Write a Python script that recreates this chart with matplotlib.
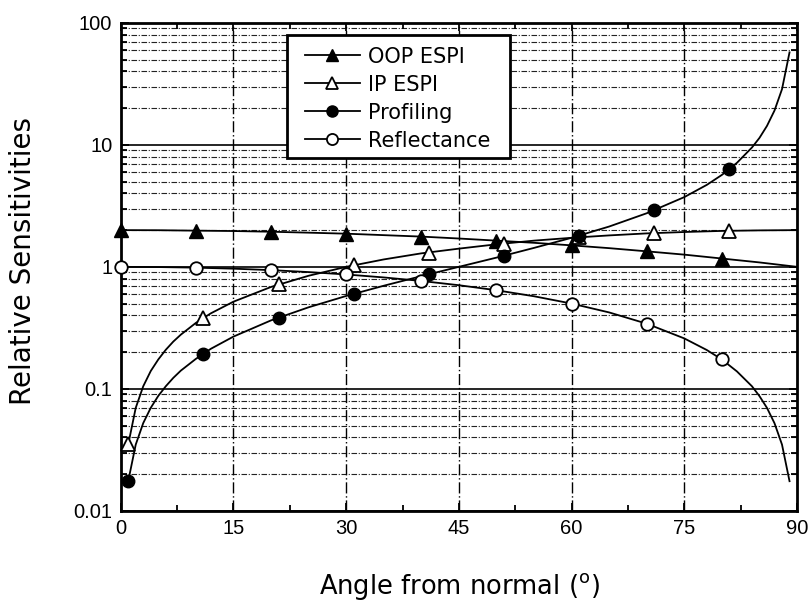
import matplotlib
matplotlib.use('Agg')
import matplotlib.pyplot as plt
from matplotlib.patches import Rectangle
from matplotlib.ticker import FixedLocator, FuncFormatter, LogLocator, NullFormatter

# marker readings
ang_a = [0, 10, 20, 30, 40, 50, 60, 70, 80]
ang_b = [1, 11, 21, 31, 41, 51, 61, 71, 81]
oop_pts = [2.0, 1.97, 1.94, 1.87, 1.77, 1.64, 1.50, 1.34, 1.17]
ip_pts = [0.035, 0.38, 0.72, 1.03, 1.31, 1.55, 1.75, 1.89, 1.98]
prof_pts = [0.0175, 0.194, 0.384, 0.60, 0.87, 1.23, 1.80, 2.90, 6.3]
refl_pts = [1.0, 0.985, 0.94, 0.866, 0.766, 0.643, 0.50, 0.342, 0.174]

# curve readings
oop_x = [0, 5, 10, 15, 20, 25, 30, 35, 40, 45, 50, 55, 60, 65, 70, 75, 80, 85, 90]
oop_y = [2.0, 1.996, 1.98, 1.966, 1.94, 1.906, 1.87, 1.819, 1.77, 1.707, 1.64,
         1.574, 1.5, 1.423, 1.34, 1.259, 1.17, 1.087, 1.0]
ip_x = [1, 2, 3, 4, 5, 6, 7, 8, 10, 12, 15, 20, 25, 30, 35, 40, 45, 50, 55, 60,
        65, 70, 75, 80, 85, 90]
ip_y = [0.0349, 0.0698, 0.105, 0.140, 0.174, 0.209, 0.244, 0.278, 0.347, 0.416,
        0.518, 0.684, 0.845, 1.0, 1.15, 1.29, 1.41, 1.53, 1.64, 1.73, 1.81,
        1.88, 1.93, 1.97, 1.99, 2.0]
prof_x = [1, 2, 3, 4, 5, 6, 7, 8, 10, 12, 15, 20, 25, 30, 35, 40, 45, 50, 55,
          60, 65, 70, 75, 78, 80, 82, 84, 85, 86, 87, 88, 89]
prof_y = [0.0175, 0.0349, 0.0524, 0.0699, 0.0875, 0.105, 0.123, 0.141, 0.176,
          0.213, 0.268, 0.364, 0.466, 0.577, 0.700, 0.839, 1.0, 1.19, 1.43,
          1.73, 2.14, 2.75, 3.73, 4.70, 5.67, 7.12, 9.51, 11.4, 14.3, 19.1,
          28.6, 57.3]
refl_x = [0, 5, 10, 15, 20, 25, 30, 35, 40, 45, 50, 55, 60, 65, 70, 75, 78, 80,
          82, 84, 85, 86, 87, 88, 89]
refl_y = [1.0, 0.996, 0.985, 0.966, 0.94, 0.906, 0.866, 0.819, 0.766, 0.707,
          0.643, 0.574, 0.5, 0.423, 0.342, 0.259, 0.208, 0.174, 0.139, 0.105,
          0.0872, 0.0698, 0.0523, 0.0349, 0.0175]

fig = plt.figure(figsize=(8.1, 6.01), dpi=100)
ax = fig.add_axes([0.149, 0.150, 0.835, 0.812])
ax.set_yscale('log')
ax.set_xlim(0, 90)
ax.set_ylim(0.01, 100)

# grid
for dec in [0.01, 0.1, 1, 10]:
    ax.axhline(dec, color='black', lw=1.2, zorder=1)
    for m in range(2, 10):
        ax.axhline(dec * m, color='#222222', lw=0.8, ls=(0, (5, 1.5, 1, 1.5)), zorder=1)
for xv in [15, 30, 45, 60, 75]:
    ax.axvline(xv, color='black', lw=1.0, ls=(0, (8, 2, 1, 2)), zorder=1)

ax.plot(oop_x, oop_y, color='black', lw=1.3, zorder=2)
ax.plot(ip_x, ip_y, color='black', lw=1.3, zorder=2)
ax.plot(prof_x, prof_y, color='black', lw=1.3, zorder=2)
ax.plot(refl_x, refl_y, color='black', lw=1.3, zorder=2)

ax.plot(ang_a, oop_pts, '^', ms=10, color='black', mec='black', clip_on=False, zorder=3)
ax.plot(ang_b, ip_pts, '^', ms=10, mfc='white', mec='black', mew=1.3, clip_on=False, zorder=3)
ax.plot(ang_b, prof_pts, 'o', ms=9, color='black', mec='black', clip_on=False, zorder=3)
ax.plot(ang_a, refl_pts, 'o', ms=9, mfc='white', mec='black', mew=1.3, clip_on=False, zorder=3)

# legend box drawn separately so the padding can match
ax.add_patch(Rectangle((0.2456, 0.7234), 0.3299, 0.252, transform=ax.transAxes,
                       facecolor='white', edgecolor='black', lw=2, zorder=4))
h1, = ax.plot([], [], '-^', color='black', ms=9, lw=1.3)
h2, = ax.plot([], [], '-^', color='black', mfc='white', ms=9, mew=1.3, lw=1.3)
h3, = ax.plot([], [], '-o', color='black', ms=8, lw=1.3)
h4, = ax.plot([], [], '-o', color='black', mfc='white', ms=8, mew=1.3, lw=1.3)
leg = ax.legend([h1, h2, h3, h4], ['OOP ESPI', 'IP ESPI', 'Profiling', 'Reflectance'],
                loc='upper left', bbox_to_anchor=(0.272, 0.951), frameon=False,
                handlelength=2.65, handletextpad=0.4, labelspacing=0.38,
                borderpad=0, borderaxespad=0,
                prop={'family': 'DejaVu Sans', 'size': 15})
leg.set_zorder(5)

ax.xaxis.set_major_locator(FixedLocator([0, 15, 30, 45, 60, 75, 90]))
ax.xaxis.set_minor_locator(FixedLocator([7.5, 22.5, 37.5, 52.5, 67.5, 82.5]))
ax.yaxis.set_major_locator(FixedLocator([0.01, 0.1, 1, 10, 100]))
ax.yaxis.set_minor_locator(LogLocator(base=10, subs=range(2, 10)))
ax.yaxis.set_minor_formatter(NullFormatter())
ax.yaxis.set_major_formatter(FuncFormatter(lambda v, p: f'{v:g}'))
ax.tick_params(which='both', direction='in', top=True, right=True, width=1.3)
ax.tick_params(which='major', length=6, labelsize=14.5, pad=6)
ax.tick_params(which='minor', length=4)
for lab in ax.get_xticklabels() + ax.get_yticklabels():
    lab.set_family('Liberation Sans')
for s in ax.spines.values():
    s.set_linewidth(2)

fig.text(0.567, 0.0116, 'Angle from normal ($^{\\mathregular{o}}$)', fontsize=18.5,
         family='DejaVu Sans', ha='center', va='baseline')
fig.text(0.028, 0.566, 'Relative Sensitivities', fontsize=20, family='DejaVu Sans',
         rotation=90, ha='center', va='center')

fig.savefig('out.png', dpi=100)
